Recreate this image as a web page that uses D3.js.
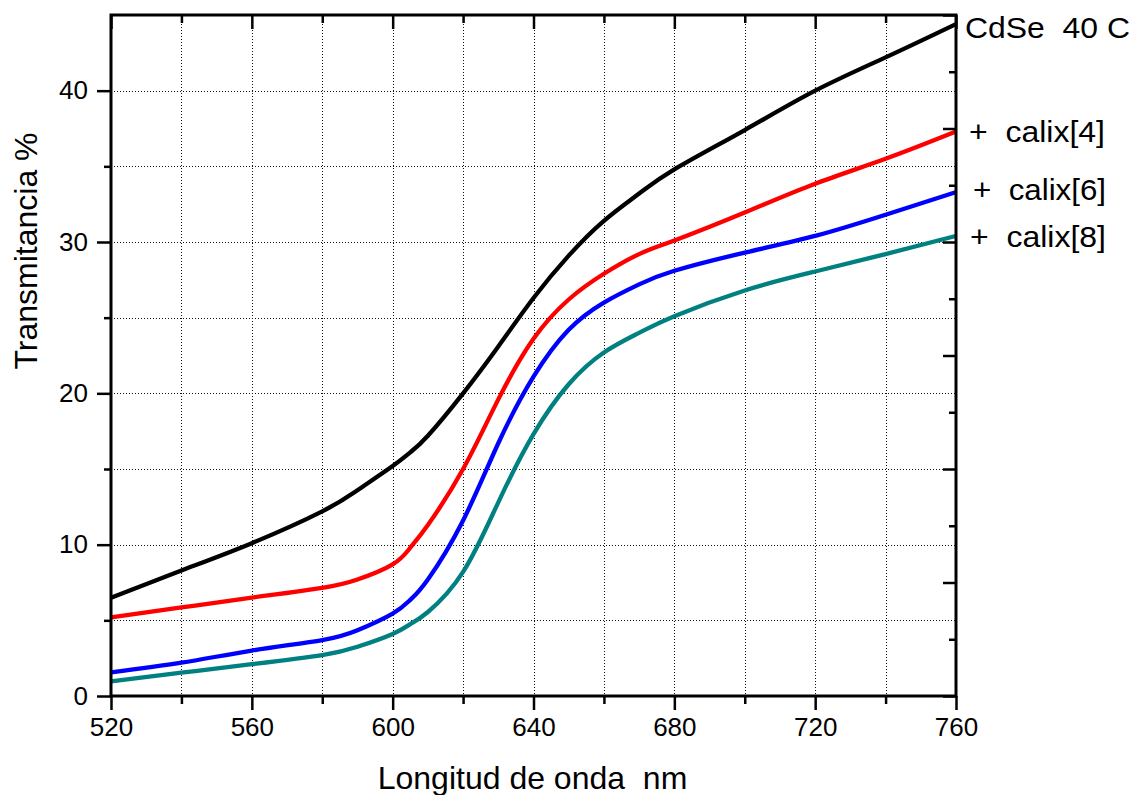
<!DOCTYPE html>
<html>
<head>
<meta charset="utf-8">
<script src="https://cdn.jsdelivr.net/npm/d3@7"></script>
<style>
  html, body { margin: 0; padding: 0; background: #fff; }
  svg { display: block; font-family: "Liberation Sans", Arial, sans-serif; }
</style>
</head>
<body>
<svg id="chart" width="1135" height="795"></svg>
<script>
// Transmittance spectra of CdSe films (40 C), bare and with calixarenes
const wavelengths = [520, 540, 560, 580, 590, 600, 605, 610, 620, 630, 640, 650, 660, 670, 680, 700, 720, 740, 760];

const cdse    = [6.5, 8.3, 10.1, 12.2, 13.6, 15.2, 16.1, 17.2, 20.0, 23.1, 26.3, 29.1, 31.4, 33.2, 34.8, 37.4, 40.0, 42.2, 44.4];
const calix4  = [5.2, 5.85, 6.5, 7.15, 7.7, 8.7, 9.8, 11.3, 15.0, 19.6, 23.6, 26.2, 27.9, 29.2, 30.1, 31.95, 33.85, 35.5, 37.3];
const calix6  = [1.56, 2.2, 3.0, 3.7, 4.35, 5.45, 6.35, 7.7, 11.6, 16.7, 21.1, 24.2, 26.0, 27.2, 28.1, 29.3, 30.4, 31.8, 33.3];
const calix8  = [0.97, 1.54, 2.1, 2.7, 3.25, 4.1, 4.75, 5.55, 8.2, 12.8, 17.3, 20.6, 22.7, 24.0, 25.1, 26.8, 28.05, 29.2, 30.4];

const seriesNames  = ["CdSe  40 C", "+  calix[4]", "+  calix[6]", "+  calix[8]"];
const seriesColors = ["#000000", "#ff0000", "#0000ff", "#008080"];
const seriesValues = [cdse, calix4, calix6, calix8];

const xMajorTicks = [520, 560, 600, 640, 680, 720, 760];
const xMinorTicks = [540, 580, 620, 660, 700, 740];
const xGridTicks  = [540, 560, 580, 600, 620, 640, 660, 680, 700, 720, 740];
const yMajorTicks = [0, 10, 20, 30, 40];
const yMinorTicks = [5, 15, 25, 35];
const yGridTicks  = [5, 10, 15, 20, 25, 30, 35, 40];
const rMajorTicks = [0, 0.2, 0.4, 0.6, 0.8, 1.0, 1.2];
const rMinorTicks = [0.1, 0.3, 0.5, 0.7, 0.9, 1.1];

const xLabel = "Longitud de onda  nm";
const yLabel = "Transmitancia %";

const svg = d3.select("#chart");
const margin = { left: 111, top: 15, right: 179, bottom: 99 };
const W = 1135, H = 795;
const iw = W - margin.left - margin.right;
const ih = H - margin.top - margin.bottom;

const x = d3.scaleLinear().domain([520, 760]).range([0, iw]);
const y = d3.scaleLinear().domain([0, 45]).range([ih, 0]);
const yR = d3.scaleLinear().domain([0, 1.2]).range([ih, 0]);

const g = svg.append("g").attr("transform", `translate(${margin.left},${margin.top})`);

// dotted grid
const grid = g.append("g").attr("stroke", "#111").attr("stroke-width", 1).attr("stroke-dasharray", "1,2");
grid.selectAll("line.v").data(xGridTicks).join("line")
  .attr("x1", d => Math.round(x(d)) + 0.5).attr("x2", d => Math.round(x(d)) + 0.5)
  .attr("y1", 0).attr("y2", ih);
grid.selectAll("line.h").data(yGridTicks).join("line")
  .attr("y1", d => Math.round(y(d)) + 0.5).attr("y2", d => Math.round(y(d)) + 0.5)
  .attr("x1", 0).attr("x2", iw);

// curves
const line = d3.line()
  .x(d => x(d[0]))
  .y(d => y(d[1]))
  .curve(d3.curveNatural);

seriesValues.forEach((vals, i) => {
  g.append("path")
    .datum(wavelengths.map((w, j) => [w, vals[j]]))
    .attr("fill", "none")
    .attr("stroke", seriesColors[i])
    .attr("stroke-width", 4.3)
    .attr("stroke-linejoin", "round")
    .attr("d", line);
});

function styleAxis(sel, fontSize) {
  sel.select(".domain").remove();
  sel.selectAll(".tick line").attr("stroke", "#000").attr("stroke-width", 2.5);
  sel.selectAll(".tick text").attr("fill", "#000").attr("font-size", fontSize)
    .attr("font-family", "'Liberation Sans', Arial, sans-serif");
}

// bottom axis
const bMaj = g.append("g").attr("transform", `translate(0,${ih})`)
  .call(d3.axisBottom(x).tickValues(xMajorTicks).tickSize(14).tickPadding(8).tickFormat(d3.format("d")));
styleAxis(bMaj, 26);
const bMin = g.append("g").attr("transform", `translate(0,${ih})`)
  .call(d3.axisBottom(x).tickValues(xMinorTicks).tickSize(8).tickFormat(""));
styleAxis(bMin, 26);

// top axis (ticks inward)
const tMaj = g.append("g")
  .call(d3.axisBottom(x).tickValues(xMajorTicks).tickSize(14).tickFormat(""));
styleAxis(tMaj, 26);
const tMin = g.append("g")
  .call(d3.axisBottom(x).tickValues(xMinorTicks).tickSize(8).tickFormat(""));
styleAxis(tMin, 26);

// left axis
const lMaj = g.append("g")
  .call(d3.axisLeft(y).tickValues(yMajorTicks).tickSize(14).tickPadding(9).tickFormat(d3.format("d")));
styleAxis(lMaj, 26);
const lMin = g.append("g")
  .call(d3.axisLeft(y).tickValues(yMinorTicks).tickSize(7).tickFormat(""));
styleAxis(lMin, 26);

// right axis (ticks inward, unlabeled)
const rMaj = g.append("g").attr("transform", `translate(${iw},0)`)
  .call(d3.axisLeft(yR).tickValues(rMajorTicks).tickSize(13).tickFormat(""));
styleAxis(rMaj, 26);
const rMin = g.append("g").attr("transform", `translate(${iw},0)`)
  .call(d3.axisLeft(yR).tickValues(rMinorTicks).tickSize(7).tickFormat(""));
styleAxis(rMin, 26);

// frame
g.append("rect")
  .attr("x", 0).attr("y", 0).attr("width", iw).attr("height", ih)
  .attr("fill", "none").attr("stroke", "#000").attr("stroke-width", 3);

// series labels at the right of the frame
const labelPos = [[965, 38], [969, 142], [973, 200], [970, 247]];
const labelWidth = [165, 136, 133, 136];
seriesNames.forEach((name, i) => {
  svg.append("text")
    .attr("x", labelPos[i][0]).attr("y", labelPos[i][1])
    .attr("font-size", 30).attr("fill", "#000")
    .attr("textLength", labelWidth[i])
    .attr("lengthAdjust", "spacingAndGlyphs")
    .style("white-space", "pre")
    .text(name);
});

// axis titles
svg.append("text")
  .attr("x", margin.left + iw / 2 - 1).attr("y", 789)
  .attr("text-anchor", "middle").attr("font-size", 32)
  .style("white-space", "pre")
  .text(xLabel);

svg.append("text")
  .attr("transform", "translate(37,251) rotate(-90)")
  .attr("text-anchor", "middle").attr("font-size", 32)
  .text(yLabel);
</script>
</body>
</html>
